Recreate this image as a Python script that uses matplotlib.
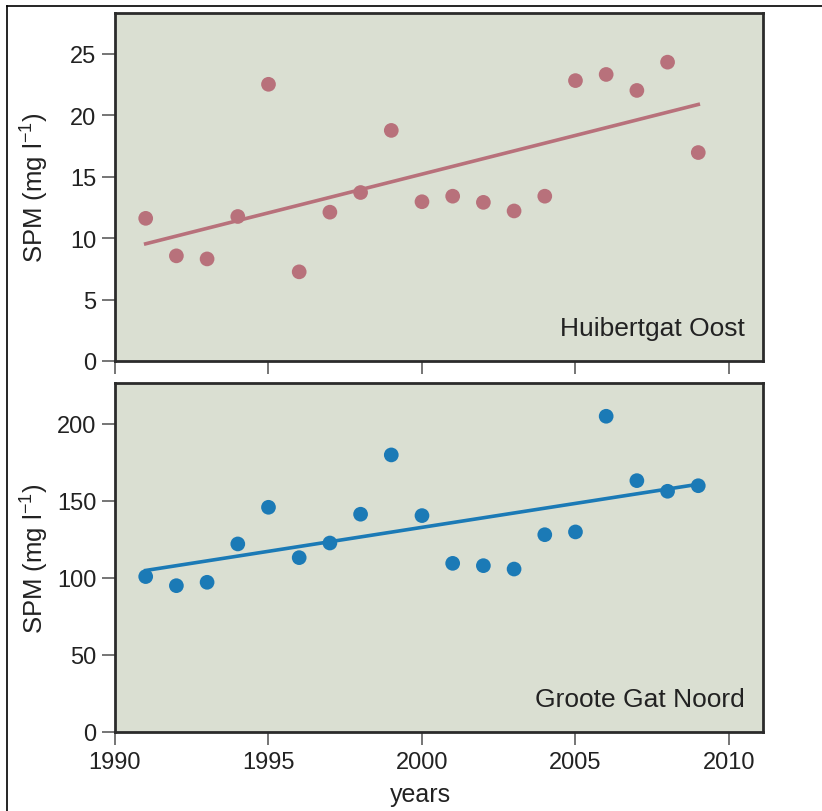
import numpy as np
import matplotlib
matplotlib.use("Agg")
import matplotlib.pyplot as plt
from matplotlib.lines import Line2D

plt.rcParams['font.family'] = ['Liberation Sans', 'DejaVu Sans']
plt.rcParams['mathtext.fontset'] = 'custom'
plt.rcParams['mathtext.rm'] = 'Liberation Sans'
plt.rcParams['mathtext.it'] = 'Liberation Sans'

years = list(range(1991, 2010))

# SPM yearly means, Huibertgat Oost
spm_huibertgat = [11.6, 8.55, 8.3, 11.75, 22.5, 7.25, 12.1, 13.7, 18.75, 12.95,
                  13.4, 12.9, 12.2, 13.4, 22.8, 23.3, 22.0, 24.3, 16.95]
# SPM yearly means, Groote Gat Noord
spm_groote = [100.9, 95.0, 97.2, 122.1, 145.9, 113.2, 122.7, 141.4, 179.9, 140.5,
              109.5, 108.0, 105.8, 128.1, 129.9, 205.0, 163.2, 156.3, 159.9]

station_names = ["Huibertgat Oost", "Groote Gat Noord"]
x_ticks = [1990, 1995, 2000, 2005, 2010]
y_ticks_top = [0, 5, 10, 15, 20, 25]
y_ticks_bottom = [0, 50, 100, 150, 200]

bg = '#dadfd2'
pink = '#b8717b'
blue = '#1b7ab6'
txt = '#222222'

fig = plt.figure(figsize=(8.22, 8.12), dpi=100)
ax1 = fig.add_axes([0.1399, 0.5542, 0.788, 0.4286])
ax2 = fig.add_axes([0.1399, 0.0973, 0.788, 0.4298])

panels = [
    (ax1, spm_huibertgat, pink, y_ticks_top, (0, 28.3), station_names[0]),
    (ax2, spm_groote, blue, y_ticks_bottom, (0, 226.6), station_names[1]),
]

yr = np.array(years)
for ax, vals, col, yt, ylim, name in panels:
    ax.set_facecolor(bg)
    slope, icept = np.polyfit(yr, vals, 1)
    ax.plot(yr, slope * yr + icept, color=col, lw=2.6, zorder=2)
    ax.scatter(yr, vals, s=112, color=col, edgecolors='none', zorder=3)
    ax.set_xlim(1990, 2011.1)
    ax.set_ylim(*ylim)
    ax.set_xticks(x_ticks)
    ax.set_yticks(yt)
    for sp in ax.spines.values():
        sp.set_color('#2b2b2b')
        sp.set_linewidth(2.0)
    ax.tick_params(direction='out', length=9.5, width=1.3, color='#6a6a6a',
                   labelsize=17, labelcolor=txt, pad=4)
    ax.set_ylabel('SPM (mg l$^{-1}$)', fontsize=18.5, color=txt)
    ax.yaxis.set_label_coords(-0.099, 0.5)
    ax.text(0.972, 0.075, name, transform=ax.transAxes, ha='right', va='baseline',
            fontsize=19, color=txt)

ax1.tick_params(labelbottom=False)
ax2.set_xlabel('years', fontsize=18, color=txt)
ax2.xaxis.set_label_coords(0.472, -0.142)

# thin frame along the top and left edge of the figure
fig.add_artist(Line2D([7 / 822, 7 / 822], [0, 1 - 7 / 812], color='black', lw=1.2,
                      transform=fig.transFigure))
fig.add_artist(Line2D([7 / 822, 1], [1 - 7 / 812, 1 - 7 / 812], color='black', lw=1.2,
                      transform=fig.transFigure))

fig.savefig('out.png', dpi=100, facecolor='white')
